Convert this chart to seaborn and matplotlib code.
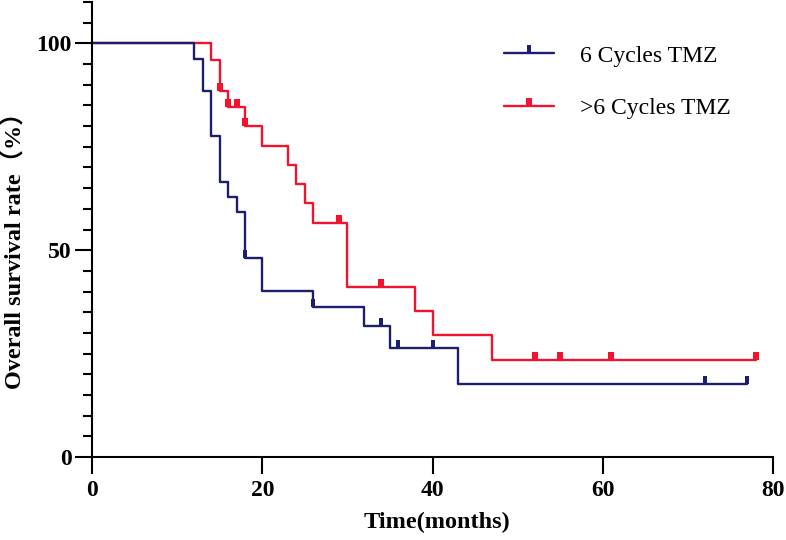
import numpy as np
import pandas as pd
import matplotlib
matplotlib.use("Agg")
import matplotlib.pyplot as plt
import seaborn as sns
from matplotlib.lines import Line2D
from matplotlib.ticker import MultipleLocator

# ---------------- data ----------------
groups = ["6 Cycles TMZ", ">6 Cycles TMZ"]
colors = ["#1C1F6E", "#F2142E"]

time_6 = [0, 12, 13, 14, 15, 16, 17, 18, 20, 26, 32, 35, 43, 77]
surv_6 = [100, 96.1, 88.6, 77.6, 66.5, 62.9, 59.3, 48.1, 40.1, 36.2, 31.6, 26.3, 17.6, 17.6]
cens_6 = [18, 26, 34, 36, 40, 72, 77]

time_gt6 = [0, 14, 15, 16, 18, 20, 23, 24, 25, 26, 30, 38, 40, 47, 78]
surv_gt6 = [100, 96.0, 88.6, 84.6, 80.0, 75.2, 70.5, 65.9, 61.3, 56.6, 41.1, 35.3, 29.5, 23.5, 23.5]
cens_gt6 = [15, 16, 17, 18, 29, 34, 52, 55, 61, 78]

x_ticks = [0, 20, 40, 60, 80]
y_ticks = [0, 50, 100]
x_label = "Time(months)"
y_label = "Overall survival rate（%）"

# ---------------- style ----------------
sns.set_style("ticks")
plt.rcParams["font.family"] = ["Liberation Serif", "Noto Sans CJK SC", "DejaVu Sans"]
plt.rcParams["text.color"] = "black"
plt.rcParams["axes.labelcolor"] = "black"
plt.rcParams["xtick.color"] = "black"
plt.rcParams["ytick.color"] = "black"
plt.rcParams["axes.edgecolor"] = "black"

fig = plt.figure(figsize=(7.86, 5.40), dpi=100)
ax = fig.add_axes([92 / 786, 83 / 540, 681 / 786, 455 / 540])

def step_lookup(times, survs, t):
    idx = np.searchsorted(np.asarray(times), t, side="right") - 1
    return survs[idx]

series = {
    groups[0]: (time_6, surv_6, cens_6, colors[0], 0.20),
    groups[1]: (time_gt6, surv_gt6, cens_gt6, colors[1], 0.36),
}

def rect_marker(w):
    return [(-w, 0), (w, 0), (w, 1), (-w, 1), (-w, 0)]

# draw red first so the blue curve lies on top where they overlap
for g in [groups[1], groups[0]]:
    t, s, c, col, w = series[g]
    df = pd.DataFrame({"time": t, "surv": s})
    sns.lineplot(data=df, x="time", y="surv", ax=ax, color=col, linewidth=1.7,
                 drawstyle="steps-post", estimator=None, sort=False, legend=False)
    cy = [step_lookup(t, s, ct) for ct in c]
    sns.scatterplot(x=c, y=cy, ax=ax, marker=rect_marker(w), s=11.5 ** 2,
                    color=col, linewidth=0, zorder=4, legend=False)

ax.set_xlim(0, 80)
ax.set_ylim(0, 110)
ax.set_xticks(x_ticks)
ax.set_yticks(y_ticks)
ax.yaxis.set_minor_locator(MultipleLocator(5))

for sp in ["top", "right"]:
    ax.spines[sp].set_visible(False)
for sp in ["left", "bottom"]:
    ax.spines[sp].set_linewidth(1.5)
    ax.spines[sp].set_color("black")

ax.tick_params(axis="both", which="major", direction="out", length=12.5, width=1.5,
               color="black", labelcolor="black", labelsize=17, pad=2)
ax.tick_params(axis="x", which="major", pad=4)
ax.tick_params(axis="y", which="minor", direction="out", length=6.5, width=1.5, color="black")
for lab in ax.get_xticklabels() + ax.get_yticklabels():
    lab.set_fontweight("bold")

ax.set_xlabel(x_label, fontsize=17.5, fontweight="bold", color="black")
ax.set_ylabel(y_label, fontsize=17.5, fontweight="bold", color="black")
ax.xaxis.set_label_coords((437 - 92) / 681, (457 - 512) / 455)
ax.yaxis.set_label_coords((27 - 92) / 681, (457 - 245) / 455)

handles = [Line2D([0], [0], color=series[g][3], linewidth=1.7,
                  marker=rect_marker(series[g][4]), markersize=11.5,
                  markeredgewidth=0) for g in groups]
leg = ax.legend(handles, groups, loc="center left",
                bbox_to_anchor=(504 / 786, 1 - 82 / 540), bbox_transform=fig.transFigure,
                frameon=False, fontsize=17, handlelength=2.1, handletextpad=1.1,
                labelspacing=1.3, borderpad=0, borderaxespad=0, numpoints=1,
                labelcolor="black")

fig.savefig("out.png", dpi=100)
